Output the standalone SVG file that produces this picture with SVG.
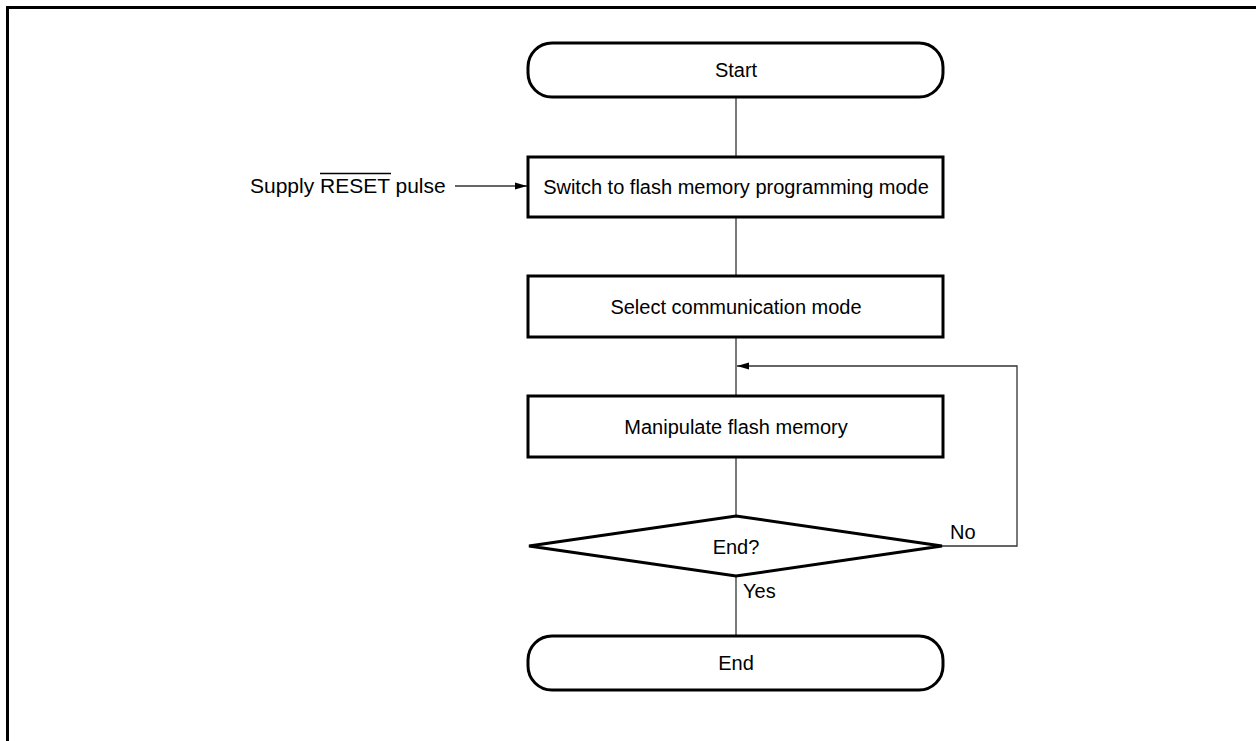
<svg xmlns="http://www.w3.org/2000/svg" width="1256" height="741" viewBox="0 0 1256 741">
<style>
.node{fill:#fff;stroke:#000;stroke-width:3}
.lbl{font-family:"Liberation Sans",Arial,sans-serif;font-size:20px;fill:#000}
.mid{text-anchor:middle}
.conn{fill:none;stroke:#333;stroke-width:1.3}
</style>
<defs>
<marker id="arr" markerWidth="12" markerHeight="8" refX="12" refY="4" orient="auto" markerUnits="userSpaceOnUse">
<path d="M0,0.5 L12,4 L0,7.5 Z" fill="#000"/>
</marker>
</defs>
<rect width="1256" height="741" fill="#fff"/>
<path d="M7.5,745 V7.5 H1260" fill="none" stroke="#000" stroke-width="3"/>
<g id="connectors">
<path class="conn" d="M736,97 V157"/>
<path class="conn" d="M736,217 V276"/>
<path class="conn" d="M736,337 V396"/>
<path class="conn" d="M736,457 V516"/>
<path class="conn" d="M736,576 V636"/>
<path class="conn" d="M942,546 H1017 V366 H737" marker-end="url(#arr)"/>
<path class="conn" d="M455,186 H527" marker-end="url(#arr)"/>
</g>
<g id="start">
<rect class="node" x="528" y="43" width="415" height="54" rx="24" ry="24"/>
<text class="lbl mid" x="736" y="77">Start</text>
</g>
<g id="reset-input">
<text class="lbl" x="250" y="193" style="font-size:21px">Supply RESET pulse</text>
<line x1="320" y1="173.5" x2="391" y2="173.5" stroke="#000" stroke-width="1.3"/>
</g>
<g id="switch">
<rect class="node" x="528" y="157" width="415" height="60"/>
<text class="lbl mid" x="736" y="194">Switch to flash memory programming mode</text>
</g>
<g id="select">
<rect class="node" x="528" y="276" width="415" height="61"/>
<text class="lbl mid" x="736" y="314">Select communication mode</text>
</g>
<g id="manipulate">
<rect class="node" x="528" y="396" width="415" height="61"/>
<text class="lbl mid" x="736" y="434">Manipulate flash memory</text>
</g>
<g id="decision">
<polygon class="node" points="736,516 942,546 736,576 529,546"/>
<text class="lbl mid" x="736" y="554">End?</text>
<text class="lbl" x="950" y="539">No</text>
<text class="lbl" x="743" y="598">Yes</text>
</g>
<g id="end">
<rect class="node" x="528" y="636" width="415" height="54" rx="24" ry="24"/>
<text class="lbl mid" x="736" y="670">End</text>
</g>
</svg>
